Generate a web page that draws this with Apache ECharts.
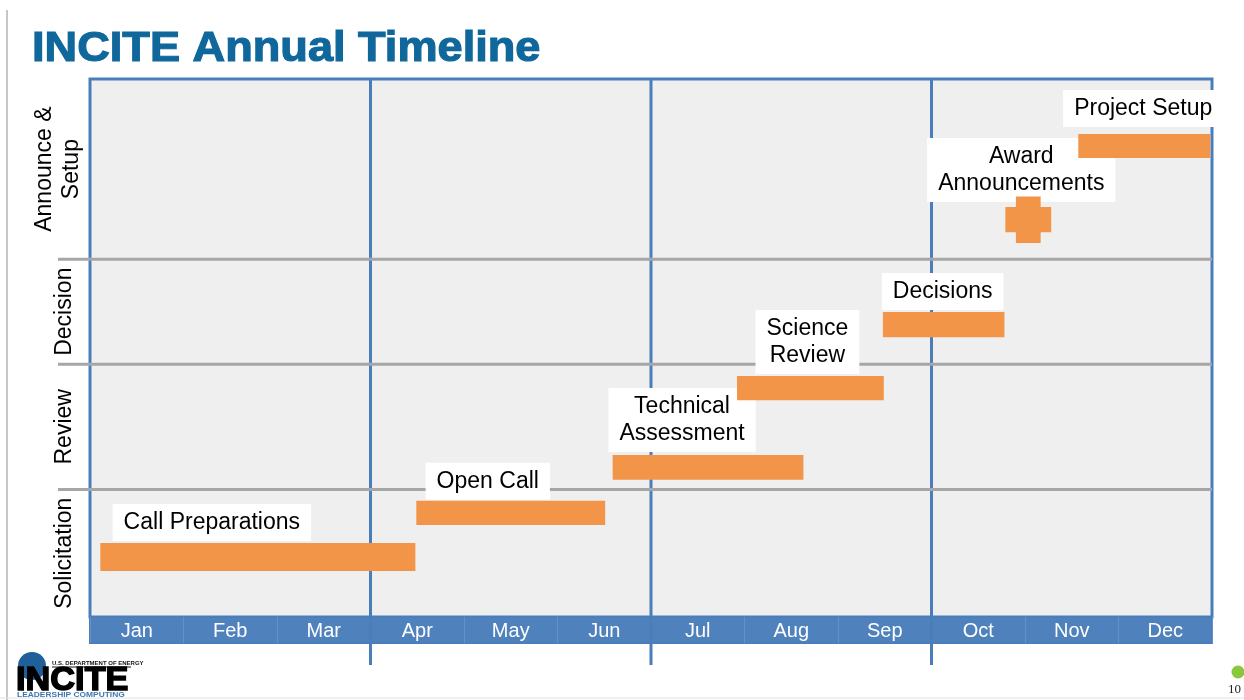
<!DOCTYPE html>
<html>
<head>
<meta charset="utf-8">
<title>INCITE Annual Timeline</title>
<script src="https://cdn.jsdelivr.net/npm/echarts@6/dist/echarts.min.js"></script>
<style>
  html, body { margin: 0; padding: 0; background: #fff; }
  #chart { width: 1244px; height: 700px; }
</style>
</head>
<body>
<div id="chart"></div>
<script>
// 底部月份
const months = ['Jan', 'Feb', 'Mar', 'Apr', 'May', 'Jun', 'Jul', 'Aug', 'Sep', 'Oct', 'Nov', 'Dec'];
// 行（从下到上），行边界在 0-100 的纵向刻度上
const rowNames = ['Solicitation', 'Review', 'Decision', 'Announce &\nSetup'];
const rowBounds = [0, 23.7, 47.0, 66.5, 100];
// 季度分隔线（以 1 月 1 日起算的月数）
const quarterTicks = [3, 6, 9];
// 各项任务
const taskNames = ['Call Preparations', 'Open Call', 'Technical\nAssessment', 'Science\nReview', 'Decisions', 'Award\nAnnouncements', 'Project Setup'];
const taskStart = [0.11, 3.49, 5.59, 6.92, 8.48, 9.79, 10.57];
const taskEnd = [3.48, 5.51, 7.63, 8.49, 9.78, 10.28, 11.98];
const taskLow = [8.55, 17.1, 25.5, 40.3, 52.0, 71.5, 85.3];
const taskHigh = [13.75, 21.6, 30.1, 44.8, 56.7, 76.2, 89.8];
const taskKind = ['bar', 'bar', 'bar', 'bar', 'bar', 'milestone', 'bar'];

// 标签相对于条形的位置（像素）
const labelDx = [-46, -23, -26, -3, -1, -7, -1];
const labelGap = [2, 1, 3, 2, 2, 5, 7];
const rowLabelDx = [0, 0, 0, -7];

const FONT = '"Liberation Sans", Arial, sans-serif';
const BLUE = '#4a7ebb';
const ORANGE = '#f39548';

const chart = echarts.init(document.getElementById('chart'));

const taskData = taskNames.map((n, i) => [taskStart[i], taskEnd[i], taskLow[i], taskHigh[i], i]);
const rowData = rowNames.map((n, i) => [rowBounds[i], rowBounds[i + 1], i]);

function renderTask(params, api) {
  const i = api.value(4);
  const tl = api.coord([api.value(0), api.value(3)]);
  const br = api.coord([api.value(1), api.value(2)]);
  const w = br[0] - tl[0];
  const h = br[1] - tl[1];
  const cx = tl[0] + w / 2;
  const children = [{
    type: 'text',
    style: {
      text: taskNames[i],
      x: cx + labelDx[i],
      y: tl[1] - labelGap[i],
      align: 'center',
      verticalAlign: 'bottom',
      fontSize: 23,
      lineHeight: 27,
      fontFamily: FONT,
      fill: '#000',
      backgroundColor: '#fff',
      padding: [5, 11]
    }
  }];
  children.push({ type: 'rect', shape: { x: tl[0], y: tl[1], width: w, height: h }, style: { fill: ORANGE } });
  if (taskKind[i] === 'milestone') {
    const vw = w * 0.54;
    children.push({
      type: 'rect',
      shape: { x: cx - vw / 2, y: tl[1] - h * 0.42, width: vw, height: h * 1.84 },
      style: { fill: ORANGE }
    });
  }
  return { type: 'group', children };
}

function renderRow(params, api) {
  const i = api.value(2);
  const cs = params.coordSys;
  const lo = api.coord([0, api.value(0)]);
  const hi = api.coord([0, api.value(1)]);
  const children = [{
    type: 'text',
    x: cs.x - 25 + rowLabelDx[i],
    y: (lo[1] + hi[1]) / 2,
    rotation: Math.PI / 2,
    style: {
      text: rowNames[i],
      align: 'center',
      verticalAlign: 'middle',
      fontSize: 23,
      lineHeight: 27,
      fontFamily: FONT,
      fill: '#000'
    }
  }];
  if (i > 0) {
    children.push({
      type: 'line',
      shape: { x1: cs.x - 32, y1: lo[1], x2: cs.x + cs.width, y2: lo[1] },
      style: { stroke: '#a6a6a6', lineWidth: 3 }
    });
  }
  return { type: 'group', children };
}

function renderQuarter(params, api) {
  const cs = params.coordSys;
  const p = api.coord([api.value(0), 0]);
  return {
    type: 'line',
    shape: { x1: p[0], y1: cs.y, x2: p[0], y2: cs.y + cs.height + 48 },
    style: { stroke: BLUE, lineWidth: 3 }
  };
}

const option = {
  animation: false,
  grid: [
    { left: 90, right: 32, top: 79, height: 538, show: true, backgroundColor: '#efefef', borderColor: BLUE, borderWidth: 3 },
    { left: 90, right: 32, top: 617, height: 26, show: true, backgroundColor: '#4f81bd', borderColor: BLUE, borderWidth: 2 }
  ],
  xAxis: [
    { type: 'value', gridIndex: 0, min: 0, max: 12, interval: 3, show: false },
    {
      type: 'category', gridIndex: 1, data: months,
      axisLine: { show: false }, axisTick: { show: false },
      axisLabel: { inside: true, color: '#fff', fontSize: 20, margin: 2, fontFamily: FONT },
      splitLine: { show: true, interval: 0, lineStyle: { color: '#6690c6', width: 1 } }
    }
  ],
  yAxis: [
    { type: 'value', gridIndex: 0, min: 0, max: 100, show: false },
    { type: 'value', gridIndex: 1, min: 0, max: 1, show: false }
  ],
  graphic: [
    // 标题
    {
      type: 'text', x: 32, y: 28, scaleX: 1.05,
      style: { text: 'INCITE Annual Timeline', fontSize: 43, fontWeight: 'bold', fontFamily: FONT, fill: '#10679b', stroke: '#10679b', lineWidth: 1.2 }
    },
    // 幻灯片左边框和底边
    { type: 'line', shape: { x1: 7, y1: 10, x2: 7, y2: 700 }, style: { stroke: '#b4b4b4', lineWidth: 1.5 } },
    { type: 'line', shape: { x1: 0, y1: 698, x2: 1244, y2: 698 }, style: { stroke: '#e2e2e2', lineWidth: 1 } },
    // 标志
    { type: 'circle', shape: { cx: 32, cy: 666, r: 14 }, style: { fill: '#1f5f9a' } },
    { type: 'text', x: 52, y: 660, style: { text: 'U.S. DEPARTMENT OF ENERGY', fontSize: 6, fontWeight: 'bold', fontFamily: FONT, fill: '#111' } },
    { type: 'line', shape: { x1: 52, y1: 667, x2: 131, y2: 667 }, style: { stroke: '#111', lineWidth: 1 } },
    {
      type: 'text', x: 16, y: 664, scaleX: 1.04,
      style: { text: 'INCITE', fontSize: 33, fontWeight: 'bold', fontFamily: FONT, fill: '#000', stroke: '#000', lineWidth: 1.5 }
    },
    { type: 'text', x: 17, y: 691, scaleX: 1.12, style: { text: 'LEADERSHIP COMPUTING', fontSize: 7.5, fontWeight: 'bold', fontFamily: FONT, fill: '#3d78b4' } },
    // 页码
    { type: 'circle', shape: { cx: 1238, cy: 672, r: 6.5 }, style: { fill: '#8cc63f' } },
    { type: 'text', x: 1228, y: 683, style: { text: '10', fontSize: 13, fontFamily: '"Liberation Serif", serif', fill: '#222' } }
  ],
  series: [
    {
      type: 'custom', name: 'quarters', xAxisIndex: 0, yAxisIndex: 0, z: 1,
      data: quarterTicks.map(q => [q]), renderItem: renderQuarter, silent: true
    },
    {
      type: 'custom', name: 'rows', xAxisIndex: 0, yAxisIndex: 0, z: 1,
      data: rowData, renderItem: renderRow, silent: true
    },
    {
      type: 'custom', name: 'tasks', xAxisIndex: 0, yAxisIndex: 0, z: 3,
      encode: { x: [0, 1], y: [2, 3] },
      data: taskData, renderItem: renderTask
    }
  ]
};

chart.setOption(option);
</script>
</body>
</html>
